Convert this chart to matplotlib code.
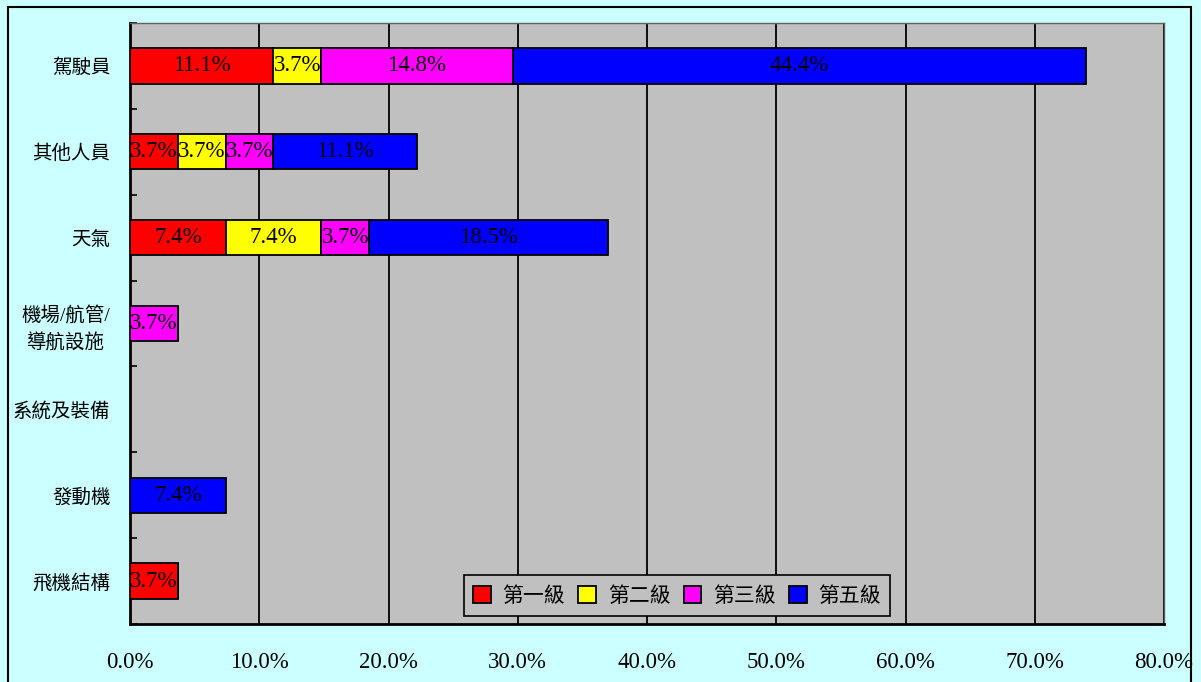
import numpy as np
import matplotlib.pyplot as plt
from matplotlib.patches import Rectangle

plt.rcParams['font.family'] = ['Liberation Serif', 'Noto Sans CJK TC', 'DejaVu Sans']

# categories top to bottom, values are percent of cases
categories = ['駕駛員', '其他人員', '天氣', '機場/航管/\n導航設施', '系統及裝備', '發動機', '飛機結構']
series_names = ['第一級', '第二級', '第三級', '第五級']
lvl1 = [11.1, 3.7, 7.4, 0, 0, 0, 3.7]
lvl2 = [3.7, 3.7, 7.4, 0, 0, 0, 0]
lvl3 = [14.8, 3.7, 3.7, 3.7, 0, 0, 0]
lvl5 = [44.4, 11.1, 18.5, 0, 0, 7.4, 0]
xticks = [0, 10, 20, 30, 40, 50, 60, 70, 80]

colors = ['#FF0000', '#FFFF00', '#FF00FF', '#0000FF']

fig = plt.figure(figsize=(12.01, 6.82), dpi=100, facecolor='#CCFFFF')
# outer frame
fig.patches.append(Rectangle((8/1201, -0.05), (1191-8)/1201, 1 - 7/682 + 0.05,
                             transform=fig.transFigure, fill=False,
                             edgecolor='black', linewidth=1.5))

ax = fig.add_axes([130/1201, 1 - 624/682, (1164-130)/1201, (624-23)/682])
ax.set_facecolor('#C0C0C0')

y = np.arange(len(categories))
left = np.zeros(len(categories))
for name, vals, c in zip(series_names, [lvl1, lvl2, lvl3, lvl5], colors):
    vals = np.array(vals, dtype=float)
    bars = ax.barh(y, vals, left=left, height=0.41, color=c,
                   edgecolor='black', linewidth=1.3, label=name, zorder=3)
    for b, v in zip(bars, vals):
        if v > 0:
            ax.text(b.get_x() + b.get_width() / 2, b.get_y() + b.get_height() / 2,
                    f'{v:.1f}%', ha='center', va='center', fontsize=16.5,
                    color='black', zorder=4)
    left += vals

ax.set_xlim(0, 80)
ax.set_ylim(len(categories) - 0.5, -0.5)
ax.set_xticks(xticks)
ax.set_xticklabels([f'{t:.1f}%' for t in xticks], fontsize=16.5)
ax.tick_params(axis='x', length=0, pad=20)
ax.xaxis.grid(True, color='black', linewidth=1.3, zorder=1)
ax.set_axisbelow(True)

ax.set_yticks(y)
ax.set_yticklabels(categories, fontsize=14, multialignment='center', linespacing=1.5)
ax.set_yticks(np.arange(-0.5, len(categories)), minor=True)
ax.tick_params(axis='y', which='major', length=0, pad=14)
ax.tick_params(axis='y', which='minor', direction='in', length=5, width=1.2)

for s in ['left', 'bottom']:
    ax.spines[s].set_color('black')
    ax.spines[s].set_linewidth(2)
for s in ['top', 'right']:
    ax.spines[s].set_color('#606060')
    ax.spines[s].set_linewidth(1)

leg = ax.legend(loc='center', bbox_to_anchor=(0.529, 0.047), ncol=4,
                fontsize=15, frameon=True, fancybox=False, facecolor='#C0C0C0',
                edgecolor='black', framealpha=1, handlelength=0.85, handleheight=0.85,
                handletextpad=0.55, columnspacing=0.65, borderpad=0.45)
leg.get_frame().set_linewidth(1.2)
for t in leg.get_texts():
    t.set_family(['Noto Sans CJK TC'])

fig.savefig('out.png', dpi=100, facecolor=fig.get_facecolor())
